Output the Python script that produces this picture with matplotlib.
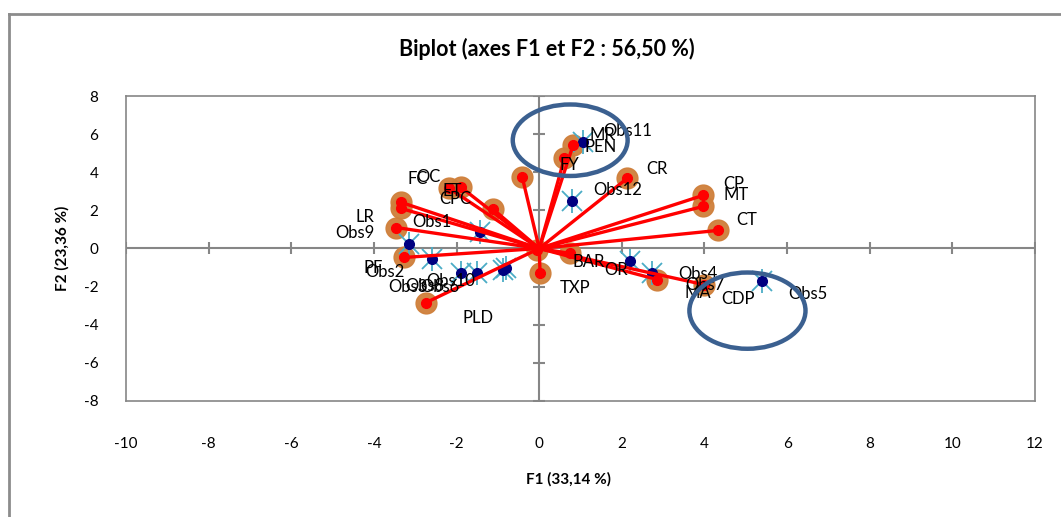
import matplotlib
matplotlib.use("Agg")
import matplotlib.pyplot as plt
from matplotlib.patches import Ellipse
from matplotlib.lines import Line2D

plt.rcParams['font.family'] = ['Lato', 'DejaVu Sans']
plt.rcParams['axes.unicode_minus'] = False

# variables (red vectors)
var_names = ["FC", "OC", "LR", "PF", "PLD", "ET", "CPC", "", "FY", "PEN", "MR",
             "CR", "CP", "MT", "CT", "BAR", "OR", "MA", "CDP", "TXP"]
var_x = [-3.34, -3.34, -3.46, -3.27, -2.74, -2.18, -1.89, -1.11, -0.41, 0.61, 0.82,
         2.13, 3.97, 3.97, 4.33, -0.05, 0.75, 2.86, 4.00, 0.02]
var_y = [2.42, 2.10, 1.10, -0.47, -2.84, 3.16, 3.21, 2.05, 3.74, 4.74, 5.42,
         3.68, 2.79, 2.21, 0.95, -0.10, -0.26, -1.63, -1.90, -1.26]
var_off = [(16, 23), (27, 31), (-31, 11), (-31, -11), (52, -15), (3, -3), (-6, -12), (0, 0),
           (47, 12), (36, 11), (29, 10), (30, 9), (31, 11), (33, 11), (29, 10),
           (52, -12), (46, -17), (40, -13), (34, -14), (35, -15)]

# observations
obs_names = ["Obs1", "Obs2", "Obs3", "Obs4", "Obs5", "Obs6",
             "Obs7", "Obs8", "Obs9", "Obs10", "Obs11", "Obs12"]
obs_x = [-1.43, -2.59, -1.89, 2.74, 5.40, -0.87, 2.20, -0.80, -3.15, -1.50, 1.07, 0.80]
obs_y = [0.84, -0.53, -1.26, -1.26, -1.68, -1.11, -0.63, -1.00, 0.26, -1.26, 5.58, 2.47]
obs_off = [(-48, 10), (-47, -13), (-53, -14), (45, -1), (46, -13), (-63, -17),
           (75, -24), (-81, -18), (-54, 11), (-27, -8), (44, 11), (45, 11)]

xticks = list(range(-10, 13, 2))
yticks = list(range(-8, 9, 2))

fig = plt.figure(figsize=(10.61, 5.17), dpi=100)
ax = fig.add_axes([0.1188, 0.2244, 0.8567, 0.5899])
ax.set_xlim(-10, 12)
ax.set_ylim(-8, 8)

gray = "#868686"
for s in ax.spines.values():
    s.set_color(gray)
    s.set_linewidth(1.2)

# axes through the origin with crossing tick marks
ax.axhline(0, color=gray, lw=1.5, zorder=1)
ax.axvline(0, color=gray, lw=1.5, zorder=1)
ax.plot(xticks, [0] * len(xticks), ls="none", marker="|", ms=9, mew=1.5, color=gray, zorder=1)
ax.plot([0] * len(yticks), yticks, ls="none", marker="_", ms=9, mew=1.5, color=gray, zorder=1)

ax.set_xticks(xticks)
ax.set_yticks(yticks)
ax.tick_params(length=0, labelsize=11)
ax.tick_params(axis="x", pad=26)
ax.tick_params(axis="y", pad=20)

# halos behind the variable points
ax.plot(var_x, var_y, ls="none", marker="o", ms=15, color="#CF7F3A", alpha=0.95, zorder=2)

# observations
ax.plot(obs_x, obs_y, ls="none", marker="x", ms=14, mew=1.3, color="#4BACC6", zorder=3)
ax.plot(obs_x, obs_y, ls="none", marker="|", ms=17, mew=1.3, color="#4BACC6", zorder=3)
ax.plot(obs_x, obs_y, ls="none", marker="o", ms=7, color="#000080", zorder=4)

# variable vectors
for x, y in zip(var_x, var_y):
    ax.plot([0, x], [0, y], color="red", lw=2.4, zorder=5)
ax.plot(var_x, var_y, ls="none", marker="o", ms=7, color="red", zorder=6)

for n, x, y, o in zip(var_names + obs_names, var_x + obs_x, var_y + obs_y, var_off + obs_off):
    ax.annotate(n, (x, y), xytext=o, textcoords="offset pixels",
                ha="center", va="center", fontsize=12, zorder=7)

# highlighted groups
ax.add_patch(Ellipse((0.75, 5.68), 2.78, 3.75, fill=False, ec="#3B6090", lw=3.2, zorder=8))
ax.add_patch(Ellipse((5.04, -3.26), 2.81, 4.0, fill=False, ec="#3B6090", lw=3.2, zorder=8))

fig.text(0.5155, 0.906, "Biplot (axes F1 et F2 : 56,50 %)", ha="center", va="center",
         fontsize=15.5, fontweight="bold")
fig.text(0.536, 0.073, "F1 (33,14 %)", ha="center", va="center", fontsize=11, fontweight="bold")
fig.text(0.059, 0.52, "F2 (23,36 %)", ha="center", va="center", fontsize=11,
         fontweight="bold", rotation=90)

# outer chart frame
fig.add_artist(Line2D([9 / 1061, 9 / 1061], [-0.01, 1 - 14 / 517], color="#8C8C8C", lw=2))
fig.add_artist(Line2D([9 / 1061, 1.01], [1 - 14 / 517, 1 - 14 / 517], color="#8C8C8C", lw=2))

fig.savefig("out.png", dpi=100)
